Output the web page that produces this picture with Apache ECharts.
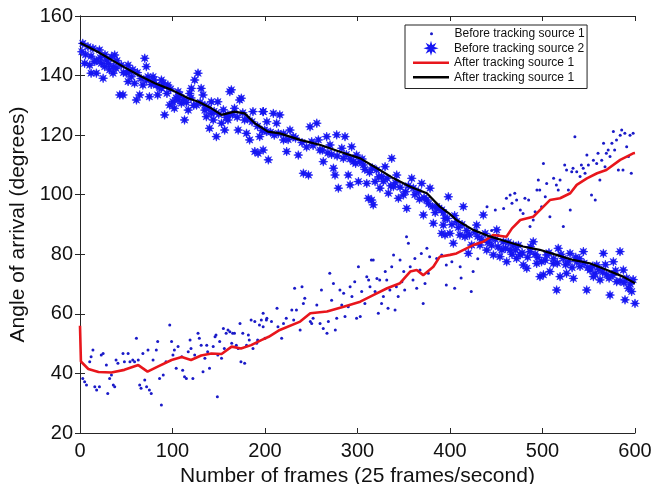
<!DOCTYPE html>
<html>
<head>
<meta charset="utf-8">
<script src="https://cdn.jsdelivr.net/npm/echarts@6/dist/echarts.min.js"></script>
<style>
html,body{margin:0;padding:0;background:#fff;}
#chart{width:656px;height:484px;}
</style>
</head>
<body>
<div id="chart"></div>
<script>
// Tick labels
const xTicks = [0, 100, 200, 300, 400, 500, 600];
const yTicks = [20, 40, 60, 80, 100, 120, 140, 160];

// Before tracking source 1 (dots): [frame, angle]
const source1Before = [
[3,38.3],[5,37.2],[7,36.1],[10.5,43.9],[12,45.6],[14,47.9],[16,35.5],[18,34.4],[21,35.5],[23,46.2],[25,46.7],[28.5,42.8],[30,33.3],[32,38.3],[34,39.5],[36,36.1],[37.5,35.5],[39,44.5],[41,43.4],[46.5,46.7],[48,43.9],[52,46.7],[54,43.9],[57,44.5],[59,43.9],[61,51.8],[63,44.5],[64.5,36.1],[66,35],[68,46.7],[70,37.8],[72,35.5],[73.5,47.9],[75,34.4],[77,33.3],[79,44.5],[82.5,47.9],[84,50.7],[86,38.3],[88,29.4],[90,39.5],[93,43.9],[97,56.3],[99,50.7],[100.5,46.2],[102,47.9],[104,41.7],[106,49],[110,45.6],[111,41.1],[113,38.9],[115,38.3],[117,47.3],[119,51.2],[120,48.4],[122,38.3],[124,46.2],[127.6,53.5],[129,51.8],[131,49.5],[133,40.6],[135,45.1],[137,49.5],[138,47.3],[140,41.7],[144,49],[146,52.3],[147,52.9],[148.5,32.2],[149,46.2],[151,50.7],[153,45.1],[155,55.1],[156,48.4],[158,53.5],[160,54.6],[162,54],[164,50.1],[165,53.5],[167,53.5],[169,49.5],[171,48.4],[173,56.8],[174,43.9],[176,53.5],[178,43.4],[180,49.5],[182,52.9],[183,51.2],[185,57.9],[187,48.4],[189,57.4],[191,50.1],[192,51.2],[194,56.3],[196,57.9],[198,60.2],[200,51.8],[201.5,57.9],
[198,55.7],[202,58.5],[207,57.4],[213,61.9],[214,55.7],[218,51.8],[220,56.8],[223,58.5],[229,61.3],[231,57.9],[232,68.6],[234,61.3],[238,54.6],[240,69.1],[241.5,63.5],[243,65.2],[249,57.4],[250.5,56.8],[252,58.5],[256,63],[259.5,56.8],[261,68],[263,55.1],[267,53.5],[268.5,57.4],[270,73.6],[272,64.6],[274,70.2],[276,54.6],[277.5,58.5],[281,68],[283,63],[285,66.9],[286.5,59.1],[290,62.4],[292,69.1],[294,65.8],[297,70.8],[299,58.5],[301,75.8],[303,59.1],[304.5,67.5],[308,63.5],[310,72.5],[312,71.4],[313.5,69.1],[315,78.1],[317,78.1],[319,67.5],[321,71.9],[322.5,60.2],[324,71.4],[326,63.5],[328,65.8],[330,74.2],[331.6,71.4],[333,61.9],[335,68],[337,75.8],[339,79.8],[340.6,61.3],[342,69.1],[344,65.8],[346,78.1],[348,70.8],[350,74.2],[351,68],[353,85.9],[355,83.7],[357,75.8],[360,71.4],[362,78.6],[364,68.6],[367.6,74.7],[369,80.3],[371,63.5],[373,70.2],[375,82],[376.6,73.6],[378,79.2],[385.6,78.6],[391,79.8],[396,69.7],
[396,76.4],[402,77.5],[411,75.8],[425,74.2],[440,96],[449,94.9],[458,95.4],[461,98.8],[465,99.9],[467,97.1],[470,100.5],[472,98.2],[476,94.9],[479,93.7],[481,98.8],[485,98.2],[486.5,89.3],[490,91.5],[492,94.3],[494,101.6],[495.5,104.9],[497,101.6],[499,96],[501,110.5],[503,99.3],[504.5,103.8],[508,92.6],[512,105.5],[515,103.3],[517,101.6],[519,104.9],[522.5,89.3],[524,110],[526,108.3],[528,101.6],[530,94.9],[531.6,107.7],[533,108.9],[535,119.5],[537,107.7],[540.6,106.1],[542,110],[544,108.9],[546,107.2],[548,113.3],[549.6,110],[553,99.9],[555,111.6],[557,98.2],[558.6,110.5],[560,113.9],[562,104.9],[564,111.6],[566,117.3],[567.6,109.4],[569,113.9],[571,115],[573,112.8],[575,117.3],[576.6,121.2],[578,115],[580,118.4],[582,108.3],[584,120],[585.6,121.7],[587,108.3],[589,120.6],[591,116.1],[593,112.8],[594.6,120],[596,107.2],[598,120.6],
[405,68.6],[423,67.5],[412,72],[430,78.5],[445,88],[452,86.5]
];

// Before tracking source 2 (asterisks): [frame, angle]
const source2Before = [
[3,150.8],[8.6,149.7],[14,149.1],[5,144.1],[10.5,143.5],[16,144.7],[21,148.6],[23,144.1],[26.7,143],[28.5,145.2],[34,146.3],[37.5,146.9],[12,140.8],[17.7,140.8],[25,139.1],[32,141.9],[39,142.4],[35.7,140.8],[43,133.5],[46.5,133.5],[44.7,143.5],[50,140.8],[52,138],[55.5,139.6],[59,137.4],[61,131.8],[64.5,133.5],[68,136.8],[70,145.8],[71.7,143],[73.5,139.6],[75,132.9],[79,139.6],[82.5,136.8],[84,133.5],[88,135.7],[91.5,126.8],[95,136.8],[97,130.1],[100.5,131.2],[102,129],[106,134.6],[109.6,130.7],[113,125.1],[117,128.4],[118.6,134],[120.4,135.7],[124,138.5],[126,130.1],[127.6,140.8],[131,135.7],[133,133.5],[135,128.4],[136.6,126.2],[140,122.3],[142,131.2],[144,125.1],[147.4,119.5],[149,131.2],[153,124],[156.4,121.7],[160,126.8],[162,134.6],[163.6,135.2],[167,129],[171,121.7],[172.6,131.8],[174.4,132.4],[178,125.1],[180,120.6],[183.4,118.4],[187,127.9],[189,114.5],[192.5,113.9],[194.3,119.5],[198,127.9],[199.7,121.7],[201.5,121.2],
[52,143.5],[88,138.5],[106,131.8],[142,127.3],[160,125.1],
[198,127.9],[202,124.5],[198,115],[203.6,111.7],[209,127.3],[212.6,124],[216,126.8],[214.4,120.6],[220,118.4],[223.4,114.5],[227,121.7],[230.6,119.5],[236,113.3],[241.5,107.2],[247,106.6],[248.7,122.8],[250.5,117.8],[256,124],[257.7,118.4],[259.5,115],[263,111.1],[266.7,119.5],[270.3,116.7],[274,108.9],[275.7,106.6],[277.5,120.1],[279.3,102.2],[283,115.6],[284.7,112.2],[286.5,119.5],[290,106.6],[292,103.3],[293.7,116.1],[295.5,111.1],[299,113.3],[301,104.4],[302.7,111.1],[306.3,110],[310,103.8],[311.7,98.8],[315.3,98.2],[317,96.6],[319,104.4],[320.7,108.3],[324.3,102.2],[326,106.1],[329.8,109.4],[333.4,100.5],[337,112.2],[338.8,102.7],[342.4,106.6],[344.2,98.8],[349.6,99.9],[353.2,95.4],[358.6,105.5],[360.4,102.2],[365.8,101],[369.4,103.8],[371.2,93.2],[374.8,98.2],[378.4,102.2],[382,90.4],[385.6,96],[391,87],[394.6,92.1],[398.2,99.3],
[391,94.9],[392.8,89.8],[394.6,86.5],[400,87],[403.6,83.7],[407.2,91],[410.8,86.5],[414.4,96],[416.2,85.9],[419.8,80.3],[423.4,83.1],[428.8,89.8],[432.4,83.1],[436,93.2],[439.7,81.4],[443.3,85.4],[446.9,79.8],[450.5,88.2],[454,79.2],[457.7,84.2],[461.3,77.5],[465,81.4],[468.5,83.1],[472,78.6],[475.7,79.8],[479.3,76.4],[483,75.3],[486.5,80.9],[490,84.2],[493.7,76.9],[497.3,72.5],[501,73.1],[504.5,79.8],[508,74.2],[511.7,76.9],[515.3,68],[517,82],[519,72.5],[522.5,78.6],[526,73.6],[529.8,80.3],[533.4,71.9],[537,77.5],[540.6,75.9],[544.2,80.9],[547.8,68],[551.4,74.7],[555,72.5],[558.6,76.4],[562.2,71.4],[565.8,80.3],[569.4,73.1],[573,66.3],[576.6,77.5],[580.2,70.8],[583.8,80.9],[587.4,74.7],[589.2,64.7],[592.8,68.6],[596.4,67.5],[600,63.5],
[2,148],[6,147],[12,146.5],[18,145],[22,146],[27,147],[31,144],[36,143],[40,145],[47,141],[53,141.5],[57,142],[62,141],[66,139],[72,138.5],[77,137],[80,138.5],[86,136],[90,137.5],[94,134],[98,135.5],[104,132.5],[108,133.5],[112,132],[115,131],[120,132.5],[123,130],[130,131],[135,130],[139,129],[145,128],[150,127],[155,128.5],[158,126],[165,127],[170,126],[176,127.5],[181,125.5],[186,124.5],[192,123],[197,121.5],[206,121],[210,120],[220,120.5],[225,118.5],[233,119],[240,117.5],[245,116],[252,116.5],[262,115],[268,114],[272,113.5],[278,113],[288,113.5],[292,112],[298,110.5],[305,112],[308,108.5],[313,107.5],[316,109],[323,106],[328,104.5],[332,105.5],[336,103],[341,104],[346,102.5],[352,101],[355,103],[362,100],[367,98.5],[372,99],[377,97],[381,96],[384,94],[388,95.5],[393,94],[397,92],[402,90],[405,93],[409,89],[413,90],[418,88],[421,86.5],[427,87.5],[430,86],[434,85],[438,87],[441,84],[445,83],[449,85],[452,82.5],[456,81.5],[460,82],[463,84],[467,80],[471,81.5],[474,83],[478,80.5],[484,79],[487,82.5],[492,80],[495,79],[499,77.5],[503,78],[507,80.5],[512,78.5],[516,77],[520,80],[525,76.5],[528,77.5],[532,75.5],[536,79],[540,78.5],[545,77],[549,75.5],[554,76],[557,73.5],[561,75],[565,74],[568,76.5],[572,72],[576,73],[579,74.5],[584,71],[588,70.5],[591,72],[595,70],[598,71.5]
];

// After tracking source 1 (red line)
const source1After = [
[0,56],[1,44],[9,41.5],[20,40.5],[34,40.3],[48,41.2],[63,42.8],[73,40.6],[84,42.3],[99,44.5],[110,45.5],[120,44.5],[131,46],[142,46.7],[153,46.5],[164,49],[174,48.4],[185,49.5],[196,51.2],[204,52.3],[216,54.6],[238,57.4],[249,60.2],[267,60.8],[285,62.4],[303,64.1],[317,66.3],[332,68.6],[346,70.3],[357,74.2],[364,74.7],[371,73],[382,75.8],[389,79.2],[400,79.8],[407,80.3],[425,83.1],[436,84.2],[447,86.5],[461,85.9],[467,88.7],[476,91.5],[490,92.6],[501,96],[508,98.2],[519,98.8],[530,100.5],[537,103.3],[548,105.5],[559,107.2],[569,108.3],[584,111.7],[598,113.9],[600,114]
];

// After tracking (black line)
const source2After = [
[0,151],[19,148],[41,144],[63,140.2],[81,137.4],[99,135.2],[117,132.4],[128,131.2],[142,129],[153,126.8],[167,127.9],[178,127.3],[189,124],[203,121.2],[216,120.6],[238,118.4],[260,116.7],[281,114.4],[303,112.2],[321,108.9],[339,105.5],[357,102.7],[375,100.5],[389,96],[400,93.5],[407,91.5],[425,88.2],[443,86],[461,84.3],[479,82.6],[497,81.5],[515,79.8],[533,78.1],[551,77],[569,74.8],[587,72.5],[600,70.3]
];

const seriesNames = ['Before tracking source 1', 'Before tracking source 2', 'After tracking source 1', 'After tracking source 1 '];

const FONT = "'Liberation Sans', Arial, Helvetica, sans-serif";
const AXIS_COLOR = '#262626';
const ASTERISK = 'path://M4.5,0L1.85,0.77L3.18,3.18L0.77,1.85L0,4.5L-0.77,1.85L-3.18,3.18L-1.85,0.77L-4.5,0L-1.85,-0.77L-3.18,-3.18L-0.77,-1.85L0,-4.5L0.77,-1.85L3.18,-3.18L1.85,-0.77Z';
const LINE_ICON = 'path://M0,0L36,0L36,2.6L0,2.6Z';

const chart = echarts.init(document.getElementById('chart'), null, {renderer: 'canvas'});

const baseAxisLine = {show: true, lineStyle: {color: AXIS_COLOR, width: 1}};
const tick = {show: true, inside: true, length: 5, lineStyle: {color: AXIS_COLOR, width: 1}};

chart.setOption({
  animation: false,
  backgroundColor: '#ffffff',
  grid: {left: 80, right: 21, top: 16, bottom: 51, containLabel: false, outerBoundsMode: 'none'},
  xAxis: [
    {
      type: 'value', min: xTicks[0], max: xTicks[xTicks.length - 1], interval: 100, position: 'bottom',
      axisLine: baseAxisLine, axisTick: tick, splitLine: {show: false},
      axisLabel: {color: '#111', fontFamily: FONT, fontSize: 20, margin: 8},
      name: 'Number of frames (25 frames/second)', nameLocation: 'middle', nameGap: 32,
      nameTextStyle: {color: '#111', fontFamily: FONT, fontSize: 21}
    },
    {
      type: 'value', min: xTicks[0], max: xTicks[xTicks.length - 1], interval: 100, position: 'top',
      axisLine: baseAxisLine, axisTick: tick, splitLine: {show: false}, axisLabel: {show: false}
    }
  ],
  yAxis: [
    {
      type: 'value', min: yTicks[0], max: yTicks[yTicks.length - 1], interval: 20, position: 'left',
      axisLine: baseAxisLine, axisTick: tick, splitLine: {show: false},
      axisLabel: {color: '#111', fontFamily: FONT, fontSize: 20, margin: 7},
      name: 'Angle of arrival (degrees)', nameLocation: 'middle', nameGap: 50, nameRotate: 90,
      nameTextStyle: {color: '#111', fontFamily: FONT, fontSize: 21}
    },
    {
      type: 'value', min: yTicks[0], max: yTicks[yTicks.length - 1], interval: 20, position: 'right',
      axisLine: baseAxisLine, axisTick: tick, splitLine: {show: false}, axisLabel: {show: false}
    }
  ],
  legend: [
    {
      data: [{name: seriesNames[1]},
             {name: seriesNames[2], icon: LINE_ICON},
             {name: seriesNames[3], icon: LINE_ICON}],
      orient: 'vertical', left: 405, top: 25,
      padding: [16, 3, 4, 8], itemGap: 0, itemWidth: 36, itemHeight: 8,
      backgroundColor: '#ffffff', borderColor: '#222', borderWidth: 1,
      selectedMode: false, z: 4,
      textStyle: {color: '#111', fontFamily: FONT, fontSize: 12, lineHeight: 14.5}
    },
    {
      data: [{name: seriesNames[0], icon: 'circle'}],
      orient: 'vertical', left: 430, top: 26.5,
      padding: 0, itemGap: 0, itemWidth: 36, itemHeight: 3,
      selectedMode: false, z: 6,
      textStyle: {color: '#111', fontFamily: FONT, fontSize: 12, lineHeight: 14.5}
    }
  ],
  series: [
    {
      name: seriesNames[0], type: 'scatter', data: source1Before,
      symbol: 'circle', symbolSize: 3,
      itemStyle: {color: '#1a1ac8', opacity: 1}
    },
    {
      name: seriesNames[1], type: 'scatter', data: source2Before,
      symbol: ASTERISK, symbolSize: 9, symbolKeepAspect: true,
      itemStyle: {color: '#1616f2', borderColor: '#1616f2', borderWidth: 0.6, opacity: 1}
    },
    {
      name: seriesNames[2], type: 'line', data: source1After,
      symbol: 'none', showSymbol: false,
      lineStyle: {color: '#e8161c', width: 2.6},
      itemStyle: {color: '#e8161c'}, z: 3
    },
    {
      name: seriesNames[3], type: 'line', data: source2After,
      symbol: 'none', showSymbol: false,
      lineStyle: {color: '#000000', width: 2.2},
      itemStyle: {color: '#000000'}, z: 3
    }
  ]
});
</script>
</body>
</html>
